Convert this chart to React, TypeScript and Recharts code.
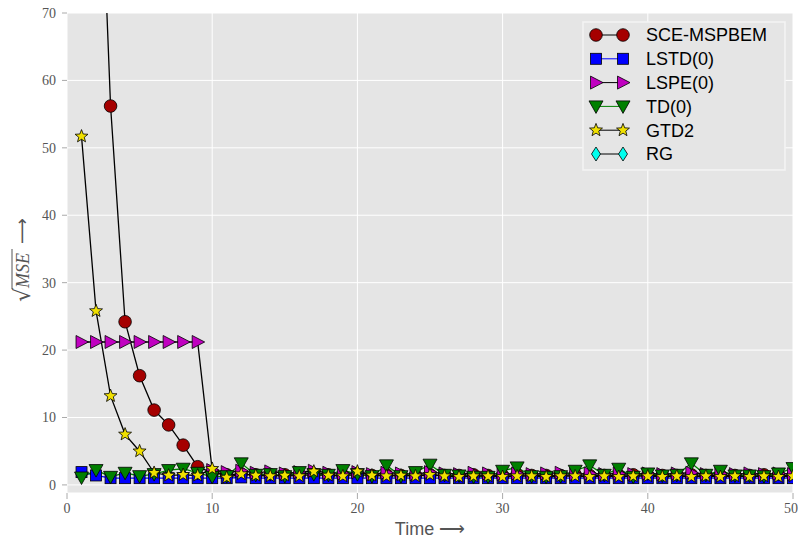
import React from "react";
import { CartesianGrid, Line, LineChart, XAxis, YAxis } from "recharts";

const TIME = [
  1, 2, 3, 4, 5, 6, 7, 8, 9, 10, 11, 12, 13, 14, 15, 16, 17, 18, 19, 20, 21, 22, 23, 24, 25,
  26, 27, 28, 29, 30, 31, 32, 33, 34, 35, 36, 37, 38, 39, 40, 41, 42, 43, 44, 45, 46, 47, 48, 49, 50,
];

const SCE_MSPBEM = [
  170, 111, 56.2, 24.2, 16.2, 11.1, 8.9, 5.9, 2.7, 1.8, 1.5, 1.6, 1.5, 1.4, 1.5, 1.5, 1.4, 1.5, 1.4, 1.5,
  1.4, 1.5, 1.4, 1.4, 1.5, 1.4, 1.4, 1.5, 1.4, 1.4, 1.5, 1.4, 1.4, 1.4, 1.5, 1.4, 1.4, 1.4, 1.5, 1.4,
  1.4, 1.4, 1.5, 1.4, 1.4, 1.4, 1.4, 1.5, 1.4, 1.4,
];
const LSTD0 = [
  1.9, 1.4, 1.0, 1.0, 1.0, 1.0, 1.0, 1.0, 1.0, 1.0, 1.0, 1.1, 1.0, 1.0, 1.0, 1.0, 1.0, 1.0, 1.0, 1.0,
  1.0, 1.0, 1.0, 1.0, 1.0, 1.0, 1.0, 1.0, 1.0, 1.0, 1.0, 1.0, 1.0, 1.0, 1.0, 1.0, 1.0, 1.0, 1.0, 1.0,
  1.0, 1.0, 1.0, 1.0, 1.0, 1.0, 1.0, 1.0, 1.0, 1.0,
];
const LSPE0 = [
  21.2, 21.2, 21.2, 21.2, 21.2, 21.2, 21.2, 21.2, 21.2, 2.2, 1.9, 2.1, 1.8, 2.0, 1.7, 1.9, 2.1, 1.8, 1.7, 1.9,
  1.6, 1.8, 1.7, 1.6, 1.9, 1.7, 1.6, 1.8, 1.7, 1.6, 1.7, 1.6, 1.7, 1.8, 1.6, 1.7, 1.6, 1.7, 1.6, 1.7,
  1.6, 1.7, 1.8, 1.6, 1.7, 1.6, 1.7, 1.6, 1.7, 1.6,
];
const TD0 = [
  1.1, 2.2, 1.2, 1.8, 1.3, 1.6, 2.2, 2.4, 1.8, 1.2, 1.3, 3.2, 1.5, 1.6, 1.3, 1.9, 1.6, 1.5, 2.2, 1.6,
  1.3, 2.9, 1.3, 1.9, 3.0, 1.5, 1.4, 1.2, 1.2, 2.1, 2.6, 1.3, 1.2, 1.3, 2.1, 2.9, 1.5, 2.4, 1.2, 1.7,
  1.4, 1.5, 3.2, 1.5, 2.1, 1.4, 1.4, 1.3, 1.7, 2.5,
];
const GTD2 = [
  51.7, 25.8, 13.2, 7.5, 5.0, 1.8, 1.4, 1.5, 1.4, 2.4, 1.1, 1.6, 1.4, 1.3, 1.4, 1.3, 2.0, 1.4, 1.3, 2.0,
  1.4, 1.3, 1.4, 1.3, 1.5, 1.3, 1.2, 1.3, 1.3, 1.2, 1.3, 1.3, 1.2, 1.3, 1.3, 1.2, 1.3, 1.2, 1.3, 1.3,
  1.2, 1.3, 1.2, 1.3, 1.2, 1.3, 1.2, 1.3, 1.2, 1.3,
];
// RG has no points inside the plotted range
const RG: number[] = [];

const X_TICKS = [0, 10, 20, 30, 40, 50];
const Y_TICKS = [0, 10, 20, 30, 40, 50, 60, 70];

type Kind = "circle" | "square" | "right" | "down" | "star" | "diamond";

interface SeriesDef {
  key: string;
  name: string;
  kind: Kind;
  fill: string;
  line: string;
}

const SERIES: SeriesDef[] = [
  { key: "sce", name: "SCE-MSPBEM", kind: "circle", fill: "#a50000", line: "#000000" },
  { key: "lstd", name: "LSTD(0)", kind: "square", fill: "#0000ff", line: "#0000ff" },
  { key: "lspe", name: "LSPE(0)", kind: "right", fill: "#c000c0", line: "#000000" },
  { key: "td", name: "TD(0)", kind: "down", fill: "#008000", line: "#008000" },
  { key: "gtd2", name: "GTD2", kind: "star", fill: "#f0e000", line: "#000000" },
  { key: "rg", name: "RG", kind: "diamond", fill: "#00ffee", line: "#000000" },
];

const rows = TIME.map((t, i) => ({
  t,
  sce: SCE_MSPBEM[i] ?? null,
  lstd: LSTD0[i] ?? null,
  lspe: LSPE0[i] ?? null,
  td: TD0[i] ?? null,
  gtd2: GTD2[i] ?? null,
  rg: RG[i] ?? null,
}));

function starPath(cx: number, cy: number, r: number, ri: number) {
  let d = "";
  for (let k = 0; k < 10; k++) {
    const rr = k % 2 === 0 ? r : ri;
    const a = -Math.PI / 2 + (k * Math.PI) / 5;
    d += (k === 0 ? "M" : "L") + (cx + rr * Math.cos(a)).toFixed(2) + "," + (cy + rr * Math.sin(a)).toFixed(2);
  }
  return d + "Z";
}

function Marker({ kind, cx, cy, fill }: { kind: Kind; cx: number; cy: number; fill: string }) {
  const s = { fill, stroke: "#000", strokeWidth: 0.8 };
  switch (kind) {
    case "circle":
      return <circle cx={cx} cy={cy} r={6.3} {...s} />;
    case "square":
      return <rect x={cx - 5.5} y={cy - 5.5} width={11} height={11} {...s} />;
    case "right":
      return <path d={`M${cx - 5.5},${cy - 6.5}L${cx + 7},${cy}L${cx - 5.5},${cy + 6.5}Z`} {...s} />;
    case "down":
      return <path d={`M${cx - 7},${cy - 5.5}L${cx + 7},${cy - 5.5}L${cx},${cy + 7}Z`} {...s} />;
    case "star":
      return <path d={starPath(cx, cy, 6.8, 2.9)} {...s} />;
    case "diamond":
      return <path d={`M${cx},${cy - 7}L${cx + 4.5},${cy}L${cx},${cy + 7}L${cx - 4.5},${cy}Z`} {...s} />;
  }
}

function dotFor(def: SeriesDef) {
  return (props: any) => {
    const { cx, cy, index, value } = props;
    if (cx == null || cy == null || value == null) return <g key={`${def.key}-${index}`} />;
    return (
      <g key={`${def.key}-${index}`}>
        <Marker kind={def.kind} cx={cx} cy={cy} fill={def.fill} />
      </g>
    );
  };
}

const tickStyle = { fontFamily: "'Liberation Serif', 'DejaVu Serif', serif", fontSize: 14, fill: "#555" };

function ChartLegend() {
  return (
    <svg width={205} height={151} style={{ position: "absolute", left: 582, top: 21 }}>
      <rect x={1} y={1} width={202} height={148} fill="#e5e5e5" stroke="#f4f4f4" strokeWidth={1.5} />
      {SERIES.map((s, i) => {
        const y = 14 + i * 23.8;
        return (
          <g key={s.key}>
            <line x1={14} x2={41} y1={y} y2={y} stroke={s.line} strokeWidth={1} />
            <Marker kind={s.kind} cx={14} cy={y} fill={s.fill} />
            <Marker kind={s.kind} cx={41} cy={y} fill={s.fill} />
            <text x={64} y={y + 6.3} fontFamily="'Liberation Sans', Arial, sans-serif" fontSize={18} fill="#000">
              {s.name}
            </text>
          </g>
        );
      })}
    </svg>
  );
}

// rotated y-axis title: radical sign with a bar over MSE, then an arrow
function YLabel() {
  return (
    <svg width={40} height={541} style={{ position: "absolute", left: 0, top: 0 }}>
      <g transform="translate(29,302) rotate(-90)" fill="#555">
        <text x={0} y={1} fontFamily="'DejaVu Serif', serif" fontSize={22}>
          √
        </text>
        <line x1={13} x2={53} y1={-17} y2={-17} stroke="#555" strokeWidth={1} />
        <text x={14} y={0} fontFamily="'Liberation Serif', serif" fontStyle="italic" fontSize={18}>
          MSE
        </text>
        <text x={58} y={-1} fontFamily="'DejaVu Sans', sans-serif" fontSize={18}>
          ⟶
        </text>
      </g>
    </svg>
  );
}

export default function App() {
  return (
    <div style={{ position: "fixed", left: 0, top: 0, width: 798, height: 541, background: "#fff", overflow: "hidden" }}>
      <LineChart width={798} height={541} data={rows} margin={{ top: 13, right: 5, bottom: 0, left: 0 }}>
        <CartesianGrid fill="#e5e5e5" stroke="#ffffff" strokeWidth={1} />
        <XAxis
          dataKey="t"
          type="number"
          domain={[0, 50]}
          ticks={X_TICKS}
          height={48}
          axisLine={false}
          tickLine={{ stroke: "#aaa" }}
          tickSize={6}
          tickMargin={4}
          tick={tickStyle}
          allowDataOverflow
          label={{
            value: "Time ⟶",
            position: "insideBottom",
            offset: 6,
            style: { fontFamily: "'Liberation Sans', Arial, sans-serif", fontSize: 18, fill: "#555" },
          }}
        />
        <YAxis
          type="number"
          domain={[-1.2, 70]}
          ticks={Y_TICKS}
          width={67}
          axisLine={false}
          tickLine={{ stroke: "#aaa" }}
          tickSize={5}
          tickMargin={6}
          tick={tickStyle}
          allowDataOverflow
        />
        {SERIES.map((s) => (
          <Line
            key={s.key}
            dataKey={s.key}
            name={s.name}
            type="linear"
            stroke={s.line}
            strokeWidth={1.3}
            dot={dotFor(s)}
            activeDot={false}
            connectNulls={false}
            isAnimationActive={false}
          />
        ))}
      </LineChart>
      <YLabel />
      <ChartLegend />
    </div>
  );
}
